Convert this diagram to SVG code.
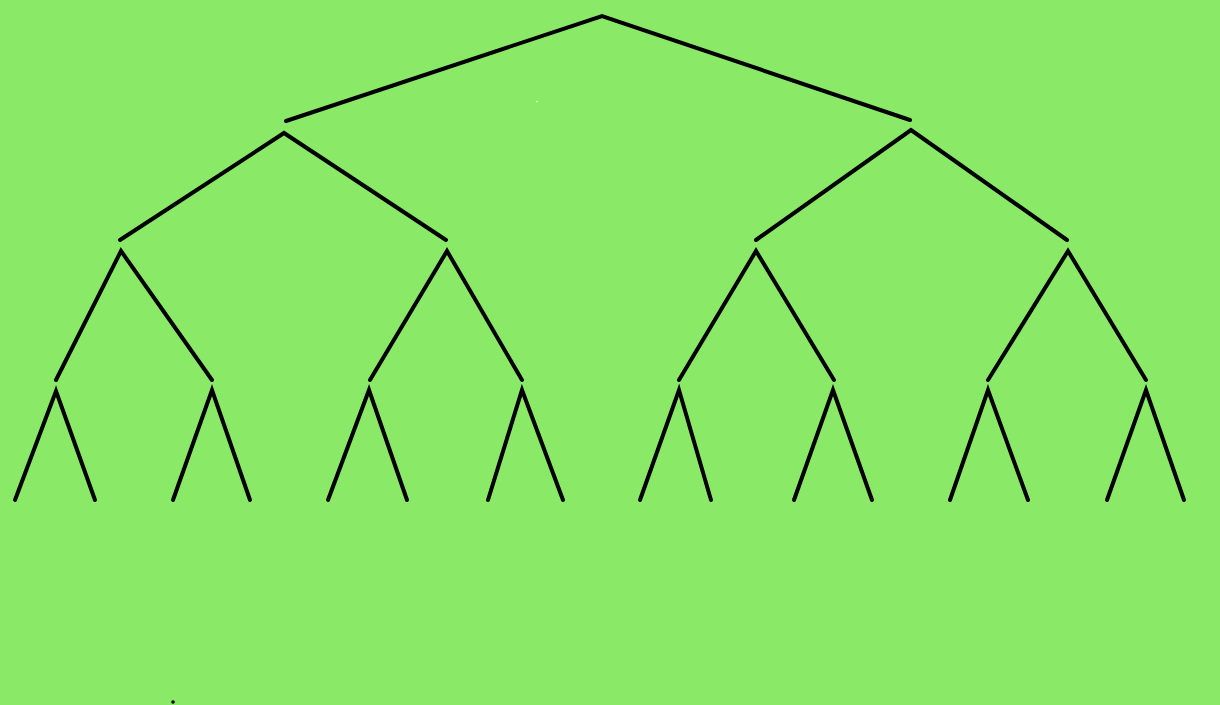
<svg xmlns="http://www.w3.org/2000/svg" width="1220" height="705" viewBox="0 0 1220 705">
<style>
.v{fill:none;stroke:#000;stroke-width:4;stroke-linecap:round;stroke-linejoin:miter}
</style>
<rect width="1220" height="705" fill="#8aea68"/>
<g id="connectors">
<g id="root"><polyline class="v" points="286,121 602,16 910,120"/></g>
<g id="l2a"><polyline class="v" points="120,240 284,133 446,240"/></g>
<g id="l2b"><polyline class="v" points="756,240 911,130 1067,240"/></g>
<g id="l3a"><polyline class="v" points="56,380 121,251 212,380"/></g>
<g id="l3b"><polyline class="v" points="370,380 447,251 522,380"/></g>
<g id="l3c"><polyline class="v" points="679,380 756,251 834,380"/></g>
<g id="l3d"><polyline class="v" points="988,380 1068,251 1146,380"/></g>
<g id="l4a"><polyline class="v" points="15,500 56,391 95,500"/></g>
<g id="l4b"><polyline class="v" points="173,500 212,390 250,500"/></g>
<g id="l4c"><polyline class="v" points="328,500 369,390 407,500"/></g>
<g id="l4d"><polyline class="v" points="488,500 522,390 563,500"/></g>
<g id="l4e"><polyline class="v" points="640,500 679,390 711,500"/></g>
<g id="l4f"><polyline class="v" points="794,500 833,390 872,500"/></g>
<g id="l4g"><polyline class="v" points="950,500 988,390 1028,500"/></g>
<g id="l4h"><polyline class="v" points="1107,500 1146,390 1184,500"/></g>
</g>
<circle cx="537" cy="101.5" r="0.8" fill="#fff"/>
<circle cx="173" cy="702" r="1.8" fill="#000"/>
</svg>
